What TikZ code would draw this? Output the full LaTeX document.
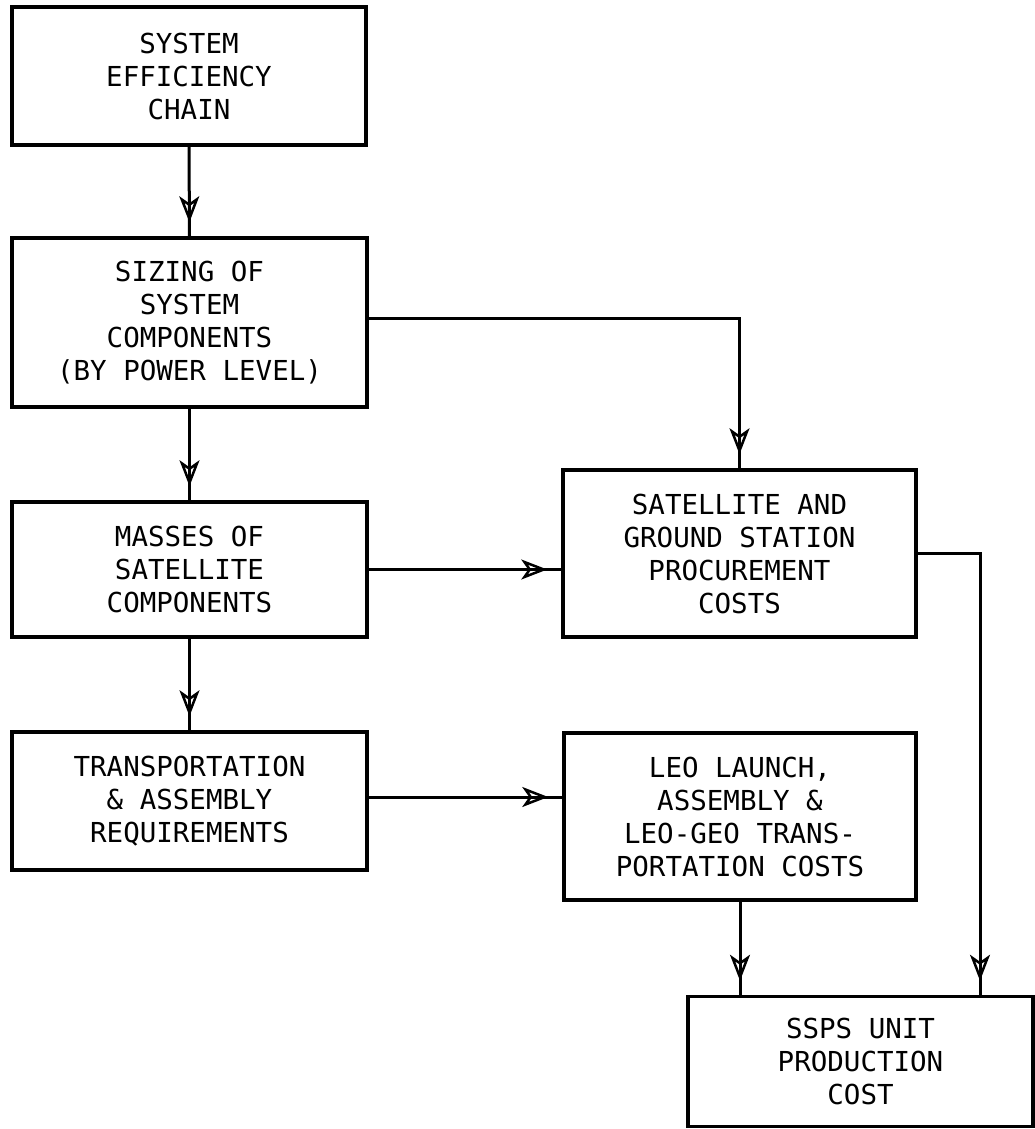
\documentclass[tikz,border=0pt]{standalone}
\usepackage{fontspec}
\setmonofont{DejaVu Sans Mono}
\usetikzlibrary{arrows.meta,decorations.markings,positioning}
\begin{document}
\begin{tikzpicture}[x=1pt,y=-1pt,
  >={Stealth[open,length=26pt,width=20pt,inset=7pt,line width=2.5pt]},
  box/.style={draw,line width=3.5pt,rectangle,inner sep=0pt,align=center,
    font=\ttfamily\fontsize{27.5pt}{33pt}\selectfont},
  conn/.style={line width=3pt,postaction={decorate},
    decoration={markings,mark=at position -14pt with {\arrow{>}}}}]
\useasboundingbox (0,0) rectangle (1035,1129);
\node[box,minimum width=354pt,minimum height=138pt] (b1) at (189,76) {SYSTEM\\EFFICIENCY\\CHAIN};
\node[box,minimum width=355pt,minimum height=169pt] (b2) at (189.5,322.5) {SIZING OF\\SYSTEM\\COMPONENTS\\(BY POWER LEVEL)};
\node[box,minimum width=355pt,minimum height=135pt] (b3) at (189.5,569.5) {MASSES OF\\SATELLITE\\COMPONENTS};
\node[box,minimum width=355pt,minimum height=138pt] (b4) at (189.5,801) {TRANSPORTATION\\\& ASSEMBLY\\REQUIREMENTS};
\node[box,minimum width=353pt,minimum height=167pt] (b5) at (739.5,553.5) {SATELLITE AND\\GROUND STATION\\PROCUREMENT\\COSTS};
\node[box,minimum width=352pt,minimum height=167pt] (b6) at (740,816.5) {LEO LAUNCH,\\ASSEMBLY \&\\LEO-GEO TRANS-\\PORTATION COSTS};
\node[box,minimum width=345pt,minimum height=130pt] (b7) at (860.5,1061.5) {SSPS UNIT\\PRODUCTION\\COST};
\draw[conn] (b1.south) -- (b2.north);
\draw[conn] (b2.south) -- (b3.north);
\draw[conn] (b3.south) -- (b4.north);
\draw[conn] ([yshift=4.5pt]b2.east) -| (b5.north);
\draw[conn] (b3.east) -- (b3.east -| b5.west);
\draw[conn] ([yshift=4pt]b4.east) -- ([yshift=4pt]b4.east -| b6.west);
\draw[conn] (b5.east) -| ([xshift=119.5pt]b7.north);
\draw[conn] (b6.south) -- (b6.south |- b7.north);
\end{tikzpicture}
\end{document}
